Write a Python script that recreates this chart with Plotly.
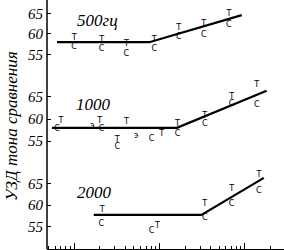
import plotly.graph_objects as go

# ---- data (x: arbitrary log-scale units, y: dB) ----
panel_labels = ["500гц", "1000", "2000"]
y_ticks = [55, 60, 65]

line500_x = [63, 760, 9200]
line500_y = [58.0, 58.0, 64.6]
t500_x = [100, 210, 410, 870, 1680, 3300, 6500]
t500_y = [59.0, 58.5, 57.7, 58.5, 61.5, 62.4, 64.9]
c500_x = [100, 210, 410, 870, 1680, 3300, 6500]
c500_y = [56.8, 56.3, 55.2, 56.3, 59.3, 59.8, 62.2]

line1000_x = [55, 1600, 18000]
line1000_y = [58.0, 58.0, 66.4]
t1000_x = [70, 200, 320, 410, 1060, 1630, 3400, 7000, 13800]
t1000_y = [59.5, 59.5, 55.3, 59.3, 56.6, 58.9, 60.8, 65.0, 67.7]
c1000_x = [63, 210, 320, 810, 1630, 3400, 7000, 13800]
c1000_y = [57.7, 57.7, 53.7, 55.5, 56.6, 58.9, 63.4, 63.2]
e1000_x = [163, 536]
e1000_y = [58.4, 56.1]

line2000_x = [170, 3100, 16700]
line2000_y = [57.7, 57.7, 66.3]
t2000_x = [213, 950, 3400, 7000, 14600]
t2000_y = [58.8, 55.1, 60.2, 63.7, 67.0]
c2000_x = [208, 806, 3400, 7000, 14600]
c2000_y = [55.6, 54.0, 57.0, 60.3, 63.3]

FONT = "Liberation Sans Narrow"
fig = go.Figure()

panels = [
    ("y", line500_x, line500_y, [(t500_x, t500_y, "Т"), (c500_x, c500_y, "С")]),
    ("y2", line1000_x, line1000_y, [(t1000_x, t1000_y, "Т"), (c1000_x, c1000_y, "С"),
                                     (e1000_x, e1000_y, "э")]),
    ("y3", line2000_x, line2000_y, [(t2000_x, t2000_y, "Т"), (c2000_x, c2000_y, "С")]),
]
for yax, lx, ly, marks in panels:
    fig.add_trace(go.Scatter(x=lx, y=ly, mode="lines", yaxis=yax, xaxis="x",
                             line=dict(color="black", width=2.2), showlegend=False,
                             hoverinfo="skip"))
    for mx, my, ch in marks:
        fig.add_trace(go.Scatter(x=mx, y=my, mode="text", yaxis=yax, xaxis="x",
                                 text=[ch] * len(mx), textposition="middle center",
                                 textfont=dict(family="DejaVu Sans Condensed", size=9,
                                               color="#000000"),
                                 showlegend=False, hoverinfo="skip"))

minor_vals = []
for dec in [10, 100, 1000, 10000]:
    for k in range(2, 10):
        minor_vals.append(dec * k)

yax_common = dict(tickvals=y_ticks, ticks="inside", ticklen=4, tickwidth=1.2,
                  tickcolor="black", showgrid=False, zeroline=False, showline=False,
                  tickfont=dict(family=FONT, size=15, color="black", style="italic"),
                  ticklabelstandoff=3)

fig.update_layout(
    width=284, height=250,
    margin=dict(l=47, r=0, t=0, b=1),
    paper_bgcolor="white", plot_bgcolor="white",
    xaxis=dict(type="log", range=[1.6824, 4.4588], anchor="y3",
               showline=True, linecolor="black", linewidth=1.5,
               tickvals=[100, 1000, 10000], ticks="inside", ticklen=6, tickcolor="black",
               showticklabels=False, showgrid=False, zeroline=False,
               minor=dict(tickvals=minor_vals, ticks="inside", ticklen=3,
                          tickcolor="black", showgrid=False)),
    yaxis=dict(domain=[0.6787, 1.0], range=[48.78, 68.29], anchor="x", **yax_common),
    yaxis2=dict(domain=[0.3373, 0.6787], range=[49.55, 68.86], anchor="x", **yax_common),
    yaxis3=dict(domain=[0.0, 0.3373], range=[49.77, 69.30], anchor="x", **yax_common),
)

fig.add_shape(type="line", xref="paper", yref="paper", x0=0, x1=0, y0=0, y1=1,
              line=dict(color="black", width=1.5))

# panel labels
label_pos = [(97, 20), (93, 104), (94, 192)]
for txt, (px, py) in zip(panel_labels, label_pos):
    fig.add_annotation(text=txt, xref="paper", yref="paper",
                       x=(px - 47) / 237, y=1 - py / 249, showarrow=False,
                       xanchor="center", yanchor="middle",
                       font=dict(family=FONT, size=17, color="black", style="italic"))

fig.add_annotation(text="УЗД тона сравнения", xref="paper", yref="paper",
                   x=0, xshift=-35, y=1 - 126 / 249, textangle=-90, showarrow=False,
                   xanchor="center", yanchor="middle",
                   font=dict(family=FONT, size=17, color="black", style="italic"))

fig.write_html("out.html")
